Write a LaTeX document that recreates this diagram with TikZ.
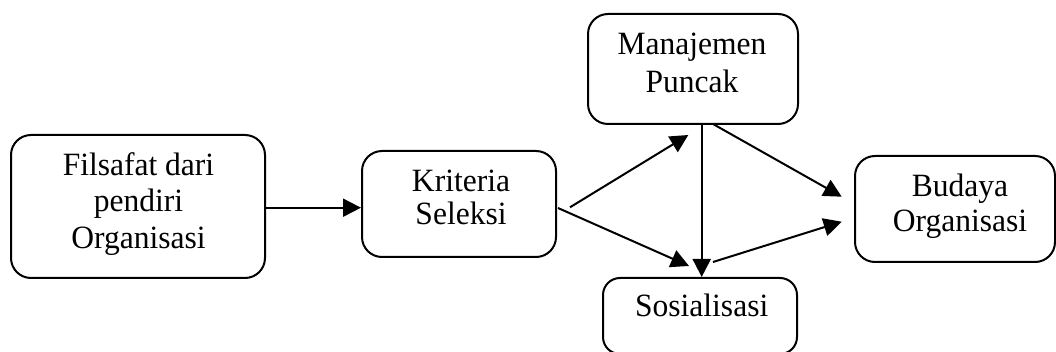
\documentclass[tikz,border=0pt]{standalone}
\usepackage{fontspec}
\setmainfont{Liberation Serif}[FakeStretch=0.97]
\usetikzlibrary{arrows.meta}
\begin{document}
\begin{tikzpicture}[x=1pt,y=-1pt,
  box/.style={draw, line width=2pt, rounded corners=20pt, inner sep=0pt},
  txt/.style={align=center, inner sep=0pt},
  conn/.style={line width=2pt, -{Triangle[length=18pt,width=18pt]}}]
\useasboundingbox (0,0) rectangle (1056,352);
% boxes
\node[box, minimum width=254pt, minimum height=143pt] (fil) at (138,206.5) {};
\node[box, minimum width=194pt, minimum height=106pt] (kri) at (459,204) {};
\node[box, minimum width=210pt, minimum height=110pt] (man) at (693,69) {};
\node[box, minimum width=200pt, minimum height=106pt] (bud) at (955,209) {};
\node[box, rounded corners=17pt, minimum width=194pt, minimum height=76pt] (soc) at (700,316) {};
% texts
\node[txt, font=\fontsize{32.5}{36.7}\selectfont] (filt) at (138.5,204) {Filsafat dari\\pendiri\\Organisasi};
\node[txt, font=\fontsize{32.5}{33.3}\selectfont] (krit) at (461,197.3) {Kriteria\\Seleksi};
\node[txt, font=\fontsize{32.5}{37.7}\selectfont] (mant) at (692,62.8) {Manajemen\\Puncak};
\node[txt, font=\fontsize{32.5}{35.7}\selectfont] (budt) at (960,206.2) {Budaya\\Organisasi};
\node[txt, font=\fontsize{32.5}{36}\selectfont, anchor=base] (soct) at (701.7,316.7) {Sosialisasi};
% connector end points
\coordinate (k1) at (570,207.3);
\coordinate (m1) at (688.3,135);
\coordinate (k2) at (558,208);
\coordinate (s1) at (689,266);
\coordinate (m2) at (701.7,124);
\coordinate (s2) at (701.7,277);
\coordinate (m3) at (713,124);
\coordinate (b1) at (841.7,196.7);
\coordinate (s3) at (713,262);
\coordinate (b2) at (841.7,221.7);
% connectors
\draw[conn] (fil.east |- 0,207.7) -- (kri.west |- 0,207.7);
\draw[conn] (k1) -- (m1);
\draw[conn] (k2) -- (s1);
\draw[conn] (m2) -- (s2);
\draw[conn] (m3) -- (b1);
\draw[conn] (s3) -- (b2);
\end{tikzpicture}
\end{document}
